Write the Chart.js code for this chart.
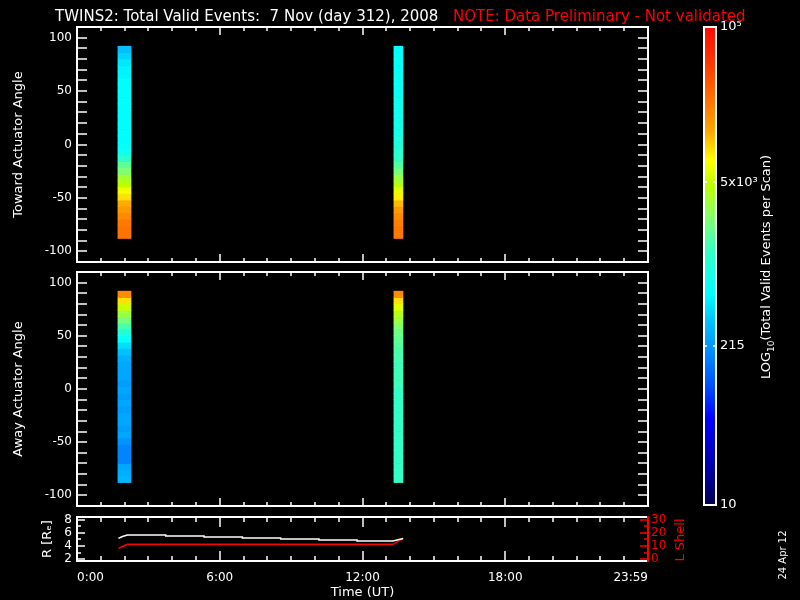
<!DOCTYPE html>
<html lang="en">
<head>
<meta charset="UTF-8">
<title>TWINS2 Total Valid Events</title>
<script src="https://cdn.jsdelivr.net/npm/chart.js"></script>
<style>
    body { margin: 0; background: #000; font-family: "DejaVu Sans", sans-serif; }
    #wrap { position: relative; width: 800px; height: 600px; background: #000; overflow: hidden; }
    #wrap canvas { position: absolute; left: 0; top: 0; }
    .txt { position: absolute; white-space: pre; color: #fff; font-size: 15px; line-height: 18px; }
    .rot { position: absolute; width: 300px; height: 20px; line-height: 20px; text-align: center; white-space: nowrap;
           color: #fff; transform: rotate(-90deg); }
    .rot sub { font-size: 9px; line-height: 0; }
</style>
</head>
<body>
<div id="wrap">
    <canvas id="towardChart" width="800" height="600"></canvas>
    <canvas id="awayChart" width="800" height="600"></canvas>
    <canvas id="orbitChart" width="800" height="600"></canvas>
    <canvas id="scaleChart" width="800" height="600"></canvas>
    <div class="txt" style="left:55px; top:7px;">TWINS2: Total Valid Events:  7 Nov (day 312), 2008</div>
    <div class="txt" style="left:453px; top:7px; color:#ff0000;">NOTE: Data Preliminary - Not validated</div>
    <!-- rotated labels: left = cx - 150, top = cy - 10 -->
    <div class="rot" style="left:616px; top:257px; font-size:13px;">LOG<sub>10</sub>(Total Valid Events per Scan)</div>
    <div class="rot" style="left:530px; top:530px; font-size:13px; color:#ff0000;">L Shell</div>
    <div class="rot" style="left:633px; top:545px; font-size:10px;">24 Apr 12</div>
</div>

<script>
    // actuator angle bins (bin centres, 6 deg wide)
    const angleBins = [-85, -79, -73, -67, -61, -55, -49, -43, -37, -31, -25, -19, -13, -7, -1,
                       5, 11, 17, 23, 29, 35, 41, 47, 53, 59, 65, 71, 77, 83, 89];
    const angleTicks = [-100, -50, 0, 50, 100];
    const angleMinor = [-100, -90, -80, -70, -60, -50, -40, -30, -20, -10, 0, 10, 20, 30, 40, 50, 60, 70, 80, 90, 100];

    // time axis (hours UT)
    const hourTicks = [0, 6, 12, 18, 24];
    const hourLabels = ["0:00", "6:00", "12:00", "18:00", "23:59"];
    const hourMinor = [0, 1, 2, 3, 4, 5, 6, 7, 8, 9, 10, 11, 12, 13, 14, 15, 16, 17, 18, 19, 20, 21, 22, 23, 24];

    // the two scans (start, end hour)
    const scan1 = [1.72, 2.27];
    const scan2 = [13.32, 13.70];

    // log10(total valid events per scan), one value per angle bin
    const toward1 = [4.38, 4.38, 4.36, 4.28, 4.20, 4.12, 3.96, 3.84, 3.68, 3.56, 3.40, 3.28, 3.08, 2.88, 2.80,
                     2.76, 2.76, 2.76, 2.76, 2.76, 2.76, 2.76, 2.76, 2.76, 2.76, 2.72, 2.72, 2.68, 2.60, 2.52];
    const toward2 = [4.36, 4.36, 4.32, 4.28, 4.20, 4.08, 3.92, 3.80, 3.64, 3.52, 3.36, 3.24, 3.12, 3.04, 3.00,
                     2.96, 2.92, 2.92, 2.88, 2.88, 2.88, 2.88, 2.84, 2.84, 2.84, 2.84, 2.80, 2.80, 2.80, 2.76];
    const away1 = [2.48, 2.44, 2.40, 2.24, 2.24, 2.24, 2.32, 2.40, 2.36, 2.40, 2.40, 2.36, 2.40, 2.36, 2.40,
                   2.36, 2.40, 2.40, 2.40, 2.44, 2.52, 2.64, 2.80, 3.00, 3.20, 3.36, 3.52, 3.72, 3.96, 4.28];
    const away2 = [3.12, 3.12, 3.12, 3.12, 3.12, 3.12, 3.12, 3.12, 3.12, 3.12, 3.12, 3.12, 3.12, 3.12, 3.12,
                   3.16, 3.16, 3.16, 3.16, 3.20, 3.20, 3.24, 3.28, 3.32, 3.40, 3.52, 3.64, 3.80, 3.96, 4.28];

    // spacecraft position
    const orbitTimes = [1.74, 1.91, 2.12, 3.73, 3.73, 5.34, 5.34, 6.95, 6.95, 8.56, 8.56, 10.17, 10.17, 11.77, 11.77, 13.28, 13.71];
    const radius     = [5.18, 5.45, 5.69, 5.69, 5.54, 5.54, 5.38, 5.38, 5.23, 5.23, 5.08, 5.08, 4.92, 4.92, 4.77, 4.77, 5.15];
    const lshellTimes = [1.74, 1.91, 2.12, 13.28, 13.71];
    const lshell      = [8.2, 9.6, 11.3, 11.3, 15.9];
    const rTicks = [2, 4, 6, 8];
    const rMinor = [2, 3, 4, 5, 6, 7, 8];
    const lTicks = [0, 10, 20, 30];
    const lMinor = [0, 5, 10, 15, 20, 25, 30];

    // colour bar (log10 scale)
    const cbTicks = [1, 2.332, 3.699, 5];
    const cbLabels = ["10", "215", "5x10³", "10⁵"];

    // rainbow colour table: [fraction, r, g, b]
    const cmapStops = [
        [0.00, 0, 0, 80], [0.07, 0, 0, 160], [0.18, 0, 0, 255], [0.25, 0, 80, 255],
        [0.33, 0, 150, 255], [0.39, 0, 200, 255], [0.44, 0, 255, 255], [0.53, 50, 255, 200],
        [0.60, 130, 255, 110], [0.67, 190, 255, 0], [0.72, 255, 255, 0], [0.78, 255, 170, 0],
        [0.84, 255, 120, 0], [0.92, 255, 60, 0], [1.00, 255, 10, 0]
    ];

    function cmap(logv) {
        let t = Math.min(1, Math.max(0, (logv - 1) / 4));
        for (let i = 1; i < cmapStops.length; i++) {
            const [t0, r0, g0, b0] = cmapStops[i - 1];
            const [t1, r1, g1, b1] = cmapStops[i];
            if (t <= t1) {
                const f = (t - t0) / (t1 - t0);
                return `rgb(${Math.round(r0 + f * (r1 - r0))},${Math.round(g0 + f * (g1 - g0))},${Math.round(b0 + f * (b1 - b0))})`;
            }
        }
        return "rgb(255,10,0)";
    }

    // IDL style box with inward tick marks
    const idlFrame = {
        id: "idlFrame",
        afterDraw(chart, args, opts) {
            const { ctx, chartArea: a } = chart;
            const edge = Object.assign({ left: "#fff", right: "#fff", top: "#fff", bottom: "#fff" }, opts.edges || {});
            const seg = (x1, y1, x2, y2, c, w) => {
                ctx.strokeStyle = c;
                ctx.lineWidth = w;
                ctx.beginPath();
                ctx.moveTo(x1, y1);
                ctx.lineTo(x2, y2);
                ctx.stroke();
            };
            ctx.save();
            (opts.marks || []).forEach(m => {
                const s = chart.scales[m.scale];
                m.values.forEach(v => {
                    const len = m.major && m.major.includes(v) ? m.long : m.short;
                    const p = Math.round(s.getPixelForValue(v));
                    const c = m.color || "#fff";
                    m.sides.forEach(side => {
                        if (side === "left") seg(a.left, p, a.left + len, p, c, 1.5);
                        if (side === "right") seg(a.right, p, a.right - len, p, c, 1.5);
                        if (side === "top") seg(p, a.top, p, a.top + len, c, 1.5);
                        if (side === "bottom") seg(p, a.bottom, p, a.bottom - len, c, 1.5);
                    });
                });
            });
            seg(a.left, a.top - 1, a.left, a.bottom + 1, edge.left, 2);
            seg(a.left, a.top, a.right, a.top, edge.top, 2);
            seg(a.left, a.bottom, a.right, a.bottom, edge.bottom, 2);
            seg(a.right, a.top - 1, a.right, a.bottom + 1, edge.right, 2);
            ctx.restore();
        }
    };
    Chart.register(idlFrame);
    Chart.defaults.font.family = '"DejaVu Sans", sans-serif';
    Chart.defaults.color = "#fff";
    Chart.defaults.plugins.legend.display = false;
    Chart.defaults.plugins.tooltip.enabled = false;

    const noGrid = { display: false, drawTicks: false };

    function scanSet(times, logs) {
        return {
            data: angleBins.map(a => ({ y: a, x: times })),
            backgroundColor: logs.map(cmap),
            borderWidth: 0,
            grouped: false,
            categoryPercentage: 1,
            barPercentage: 1
        };
    }

    function spectrogram(id, title, top, bottom, col1, col2) {
        return new Chart(document.getElementById(id), {
            type: "bar",
            data: { datasets: [scanSet(scan1, col1), scanSet(scan2, col2)] },
            options: {
                indexAxis: "y",
                responsive: false,
                animation: false,
                devicePixelRatio: 1,
                layout: { padding: { left: 0, right: 152, top: top, bottom: 600 - bottom } },
                plugins: {
                    idlFrame: {
                        marks: [
                            { scale: "y", values: angleMinor, short: 10, sides: ["left", "right"] },
                            { scale: "x", values: hourMinor, major: hourTicks, short: 4, long: 8, sides: ["top", "bottom"] }
                        ]
                    }
                },
                scales: {
                    x: { type: "linear", min: 0, max: 24, display: false },
                    y: {
                        type: "linear", position: "left", min: -110, max: 110, offset: false,
                        afterBuildTicks: s => { s.ticks = angleTicks.map(v => ({ value: v })); },
                        afterFit: s => { s.width = 77; s.paddingTop = 0; s.paddingBottom = 0; },
                        grid: noGrid,
                        border: { display: false },
                        ticks: { color: "#fff", font: { size: 12 }, padding: 5, autoSkip: false },
                        title: { display: true, text: title, color: "#fff", font: { size: 13 }, padding: { top: 11, bottom: 0 } }
                    }
                }
            }
        });
    }

    spectrogram("towardChart", "Toward Actuator Angle", 27, 262, toward1, toward2);
    spectrogram("awayChart", "Away Actuator Angle", 272, 506, away1, away2);

    new Chart(document.getElementById("orbitChart"), {
        type: "line",
        data: {
            datasets: [
                { data: orbitTimes.map((t, i) => ({ x: t, y: radius[i] })), borderColor: "#fff", borderWidth: 1.5, pointRadius: 0, yAxisID: "yR" },
                { data: lshellTimes.map((t, i) => ({ x: t, y: lshell[i] })), borderColor: "#ff0000", borderWidth: 1.5, pointRadius: 0, yAxisID: "yL" }
            ]
        },
        options: {
            responsive: false,
            animation: false,
            devicePixelRatio: 1,
            layout: { padding: { left: 0, right: 0, top: 517, bottom: 0 } },
            plugins: {
                idlFrame: {
                    edges: { right: "#ff0000" },
                    marks: [
                        { scale: "x", values: hourMinor, major: hourTicks, short: 5, long: 10, sides: ["top", "bottom"] },
                        { scale: "yR", values: rMinor, major: rTicks, short: 4, long: 8, sides: ["left"] },
                        { scale: "yL", values: lMinor, major: lTicks, short: 4, long: 8, sides: ["right"], color: "#ff0000" }
                    ]
                }
            },
            scales: {
                x: {
                    type: "linear", min: 0, max: 24, position: "bottom",
                    afterBuildTicks: s => { s.ticks = hourTicks.map(v => ({ value: v })); },
                    afterFit: s => { s.height = 39; s.paddingLeft = 0; s.paddingRight = 0; },
                    grid: noGrid,
                    border: { display: false },
                    ticks: { color: "#fff", font: { size: 12 }, padding: 10, align: "inner", maxRotation: 0, autoSkip: false,
                             callback: (v, i) => hourLabels[i] },
                    title: { display: true, text: "Time (UT)", color: "#fff", font: { size: 13 }, padding: { top: 0, bottom: 0 } }
                },
                yR: {
                    type: "linear", position: "left", min: 1.7, max: 8.45,
                    afterBuildTicks: s => { s.ticks = rTicks.map(v => ({ value: v })); },
                    afterFit: s => { s.width = 77; s.paddingTop = 0; s.paddingBottom = 0; },
                    grid: noGrid,
                    border: { display: false },
                    ticks: { color: "#fff", font: { size: 12 }, padding: 5, autoSkip: false },
                    title: { display: true, text: "R [Rₑ]", color: "#fff", font: { size: 13 }, padding: { top: 40, bottom: 0 } }
                },
                yL: {
                    type: "linear", position: "right", min: -1.5, max: 32.25,
                    afterBuildTicks: s => { s.ticks = lTicks.map(v => ({ value: v })); },
                    afterFit: s => { s.width = 152; s.paddingTop = 0; s.paddingBottom = 0; },
                    grid: noGrid,
                    border: { display: false },
                    ticks: { color: "#ff0000", font: { size: 12 }, padding: 3, autoSkip: false }
                }
            }
        }
    });

    function barGradient(chart) {
        const y = chart.scales.y;
        if (!chart.chartArea || !y) return null;
        const g = chart.ctx.createLinearGradient(0, y.getPixelForValue(1), 0, y.getPixelForValue(5));
        cmapStops.forEach(s => g.addColorStop(s[0], `rgb(${s[1]},${s[2]},${s[3]})`));
        return g;
    }

    new Chart(document.getElementById("scaleChart"), {
        type: "bar",
        data: {
            labels: ["scale"],
            datasets: [{ data: [[1, 5]], backgroundColor: c => barGradient(c.chart), borderWidth: 0, categoryPercentage: 1, barPercentage: 1 }]
        },
        options: {
            responsive: false,
            animation: false,
            devicePixelRatio: 1,
            layout: { padding: { left: 704, right: 24, top: 27, bottom: 95 } },
            plugins: {
                idlFrame: { marks: [{ scale: "y", values: [2.332, 3.699], short: 3, sides: ["left", "right"] }] }
            },
            scales: {
                x: { display: false },
                y: {
                    type: "linear", position: "right", min: 1, max: 5,
                    afterBuildTicks: s => { s.ticks = cbTicks.map(v => ({ value: v })); },
                    afterFit: s => { s.width = 60; s.paddingTop = 0; s.paddingBottom = 0; },
                    grid: noGrid,
                    border: { display: false },
                    ticks: { color: "#fff", font: { size: 13 }, padding: 4, autoSkip: false, callback: (v, i) => cbLabels[i] }
                }
            }
        }
    });
</script>
</body>
</html>
